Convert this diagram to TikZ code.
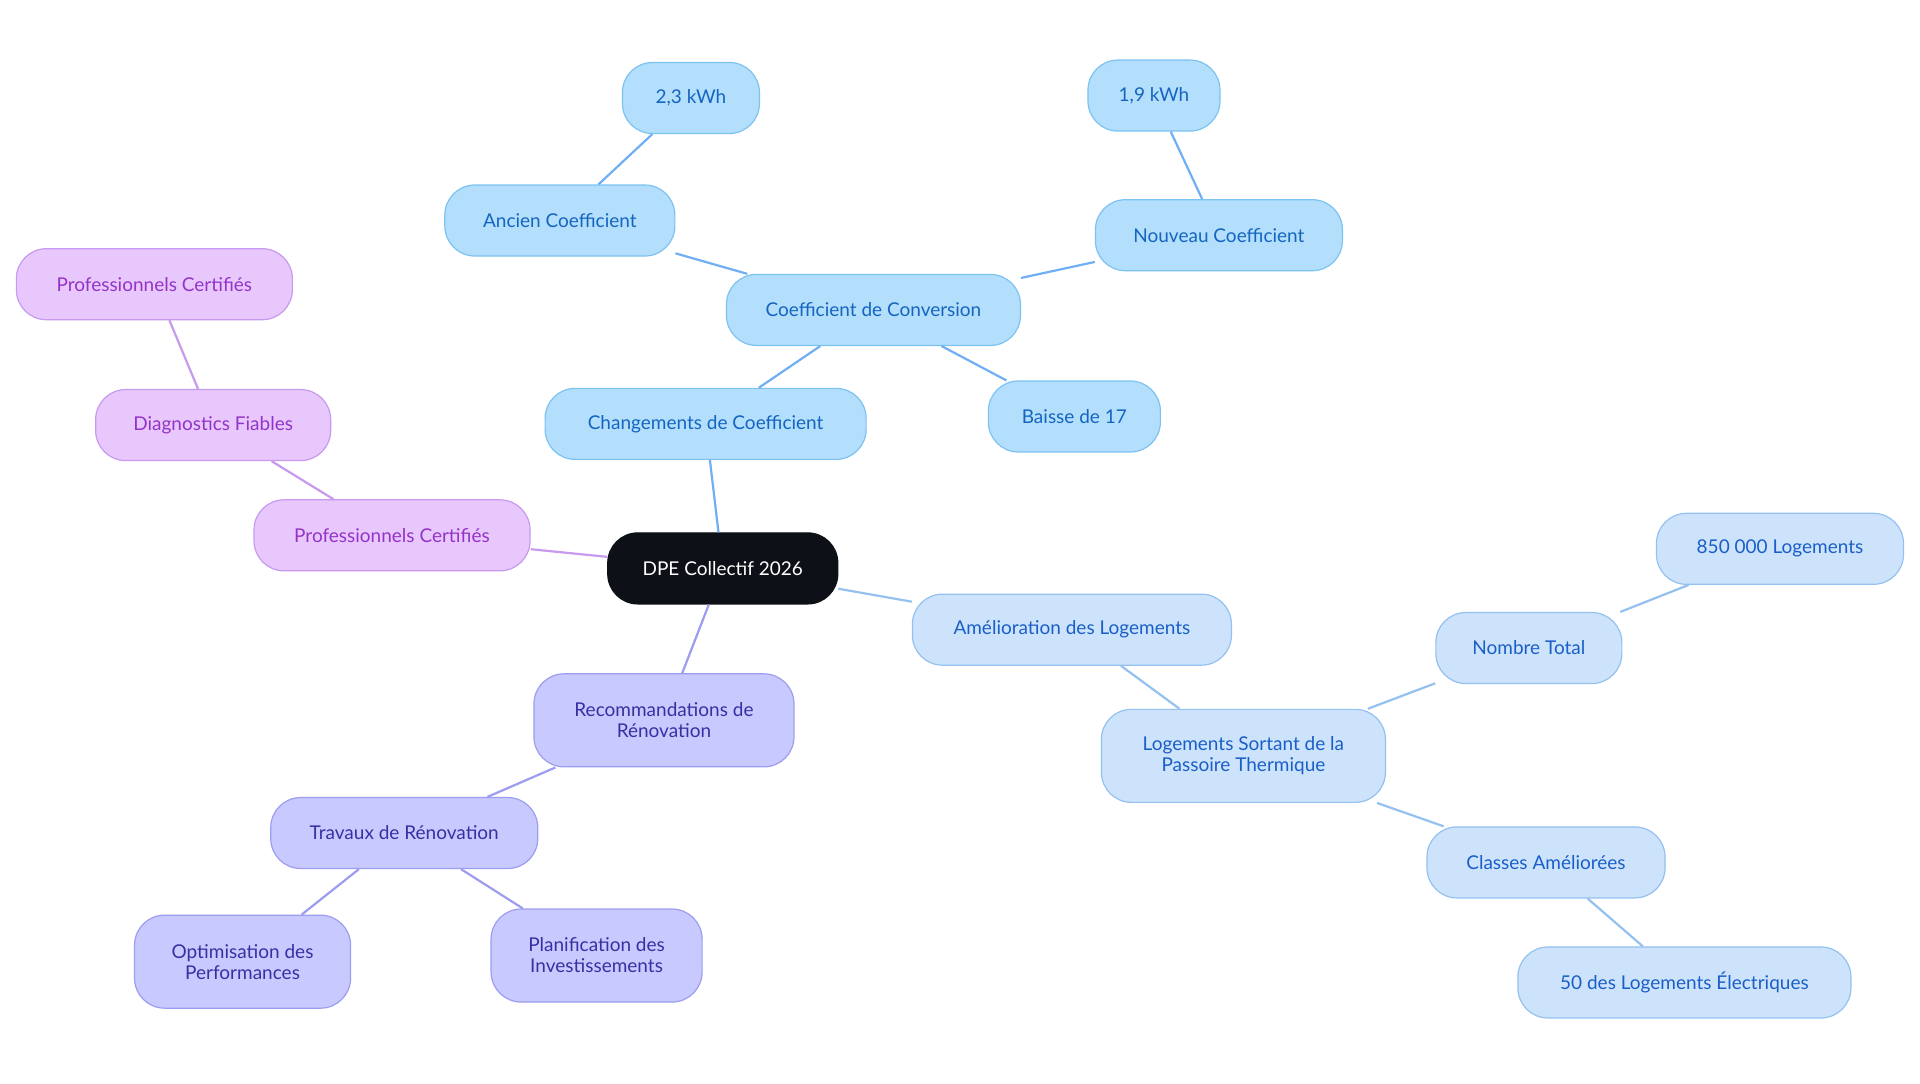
\documentclass[tikz,border=0pt]{standalone}
\usepackage{fontspec}
\setmainfont{Lato}
\definecolor{rootc}{HTML}{0D1117}
\definecolor{sky1}{HTML}{B3DFFC}\definecolor{sky2}{HTML}{7CC3F2}\definecolor{sky3}{HTML}{1565C0}
\definecolor{pur1}{HTML}{E8C8FC}\definecolor{pur2}{HTML}{C79AF0}\definecolor{pur3}{HTML}{9333C8}
\definecolor{ind1}{HTML}{C8CAFF}\definecolor{ind2}{HTML}{9D9CF0}\definecolor{ind3}{HTML}{3730A3}
\definecolor{lb1}{HTML}{CDE3FB}\definecolor{lb2}{HTML}{94C1EF}\definecolor{lb3}{HTML}{1A5FC8}
\begin{document}
\begin{tikzpicture}[x=1.225pt,y=-1.225pt,
  base/.style={draw,line width=1.2pt,rounded corners=30pt,minimum height=71pt,align=center,font=\fontsize{19}{21}\selectfont,inner sep=4pt},
  rootn/.style={base,fill=rootc,draw=rootc,text=white},
  sky/.style={base,fill=sky1,draw=sky2,text=sky3},
  pur/.style={base,fill=pur1,draw=pur2,text=pur3},
  ind/.style={base,fill=ind1,draw=ind2,text=ind3},
  lb/.style={base,fill=lb1,draw=lb2,text=lb3},
  tall/.style={minimum height=93pt},
  eS/.style={line width=2.2pt,draw=sky2!90!blue},
  eP/.style={line width=2.2pt,draw=pur2},
  eI/.style={line width=2.2pt,draw=ind2},
  eL/.style={line width=2.2pt,draw=lb2}]
\useasboundingbox[fill=white] (0,0) rectangle (1567.3,884.1);
\begin{scope}[on background layer/.style={}]
\end{scope}
% nodes
\node[rootn,minimum width=230pt] (root) at (590,464) {DPE Collectif 2026};
\node[sky,minimum width=321pt] (chg) at (576,346) {Changements de Coefficient};
\node[sky,minimum width=294pt] (conv) at (713,253) {Coefficient de Conversion};
\node[sky,minimum width=230pt] (anc) at (457,180) {Ancien Coefficient};
\node[sky,minimum width=137pt] (k23) at (564,80) {2,3 kWh};
\node[sky,minimum width=247pt] (nouv) at (995,192) {Nouveau Coefficient};
\node[sky,minimum width=132pt] (k19) at (942,78) {1,9 kWh};
\node[sky,minimum width=172pt] (bai) at (877,340) {Baisse de 17};
\node[pur,minimum width=276pt] (pc1) at (320,437) {Professionnels Certifiés};
\node[pur,minimum width=235pt] (dia) at (174,347) {Diagnostics Fiables};
\node[pur,minimum width=276pt] (pc2) at (126,232) {Professionnels Certifiés};
\node[ind,tall,minimum width=260pt] (rec) at (542,588) {Recommandations de\\Rénovation};
\node[ind,minimum width=267pt] (trav) at (330,680) {Travaux de Rénovation};
\node[ind,tall,minimum width=216pt] (opt) at (198,785) {Optimisation des\\Performances};
\node[ind,tall,minimum width=211pt] (plan) at (487,780) {Planification des\\Investissements};
\node[lb,minimum width=319pt] (ame) at (875,514) {Amélioration des Logements};
\node[lb,tall,minimum width=284pt] (sort) at (1015,617) {Logements Sortant de la\\Passoire Thermique};
\node[lb,minimum width=186pt] (nomb) at (1248,529) {Nombre Total};
\node[lb,minimum width=247pt] (l850) at (1453,448) {850 000 Logements};
\node[lb,minimum width=238pt] (cls) at (1262,704) {Classes Améliorées};
\node[lb,minimum width=333pt] (l50) at (1375,802) {50 des Logements Électriques};
% edges
\draw[eS] (root) -- (chg); \draw[eS] (chg) -- (conv); \draw[eS] (conv) -- (anc);
\draw[eS] (anc) -- (k23); \draw[eS] (conv) -- (nouv); \draw[eS] (nouv) -- (k19);
\draw[eS] (conv) -- (bai);
\draw[eP] (root) -- (pc1); \draw[eP] (pc1) -- (dia); \draw[eP] (dia) -- (pc2);
\draw[eI] (root) -- (rec); \draw[eI] (rec) -- (trav); \draw[eI] (trav) -- (opt); \draw[eI] (trav) -- (plan);
\draw[eL] (root) -- (ame); \draw[eL] (ame) -- (sort); \draw[eL] (sort) -- (nomb);
\draw[eL] (nomb) -- (l850); \draw[eL] (sort) -- (cls); \draw[eL] (cls) -- (l50);
\end{tikzpicture}
\end{document}
